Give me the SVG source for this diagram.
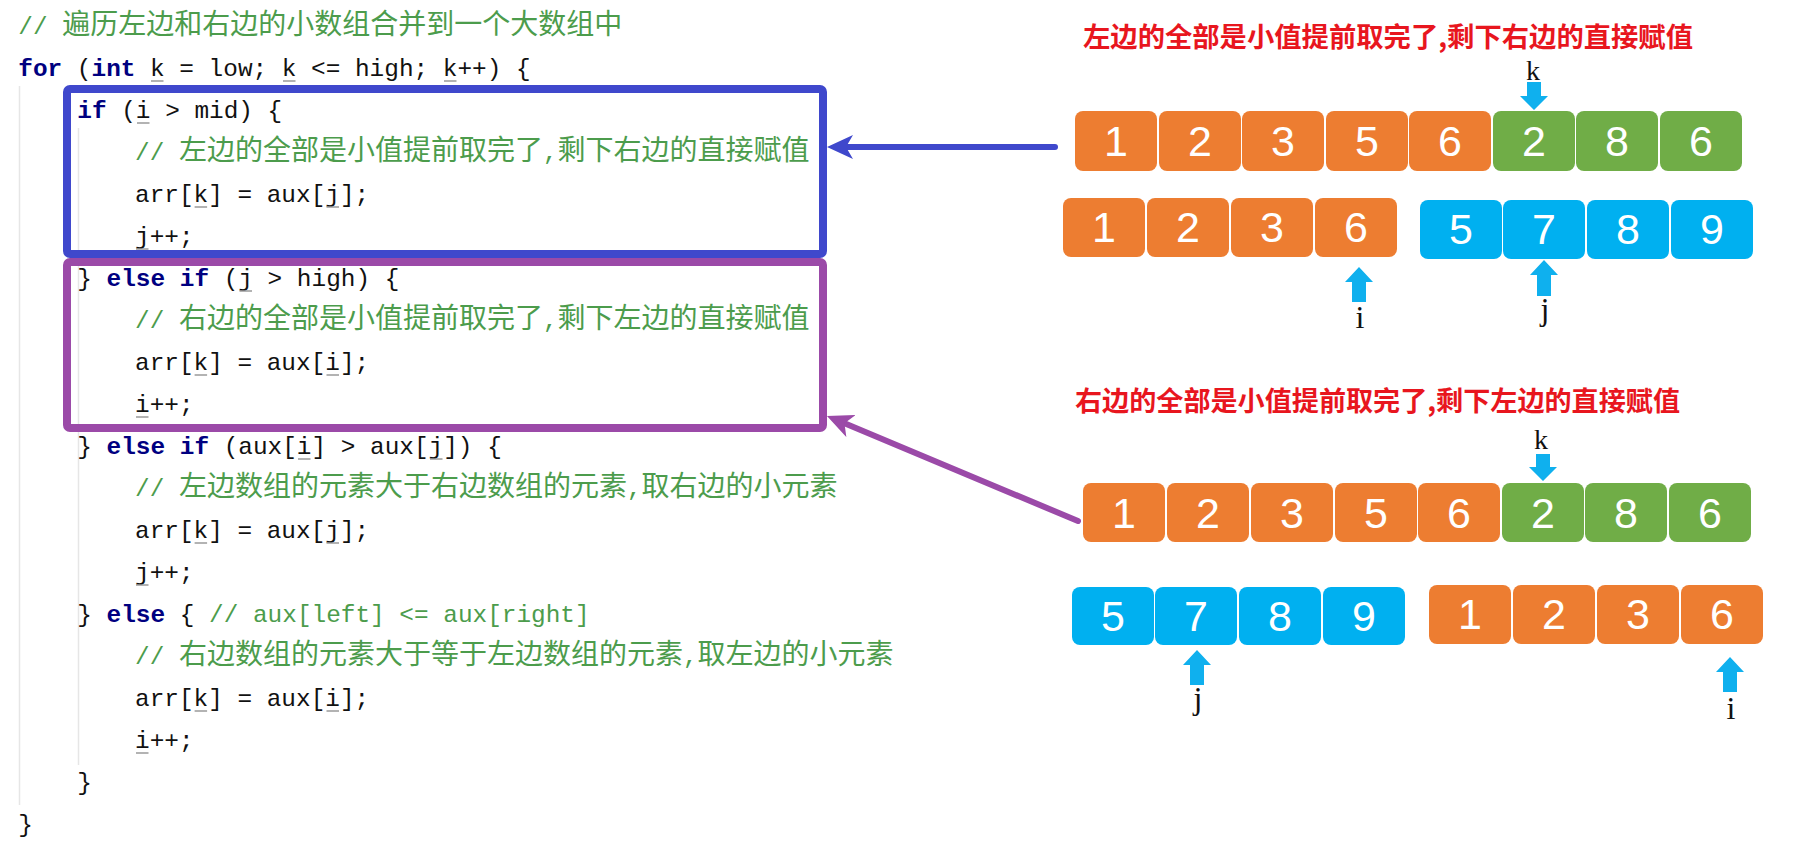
<svg xmlns="http://www.w3.org/2000/svg" width="1793" height="855" viewBox="0 0 1793 855">
<style>
text{white-space:pre}
.code{font-family:"Liberation Mono",monospace;font-size:24.4px;fill:#111}
.kw{fill:#000080;font-weight:bold}
.cm{fill:#4c9c4c}
.cj{font-family:"Noto Sans CJK SC",sans-serif;font-size:28px}
.title{font-family:"Noto Sans CJK SC",sans-serif;font-size:27px;font-weight:bold;fill:#e8161e}
.or{fill:#ed7d31}
.gr{fill:#70ad47}
.bl{fill:#00b0f0}
.dg{font-family:"Liberation Sans",Arial,sans-serif;font-size:43px;fill:#fff;text-anchor:middle}
.lb{font-family:"Liberation Serif","Times New Roman",serif;font-size:32px;fill:#111;text-anchor:middle}
.lk{font-size:28px}
.ptr{fill:#0fb0ee}
.ul{stroke:#9a9a9a;stroke-width:1.3;fill:none}
.guide{stroke:#e6e6e6;stroke-width:1.5}
</style>
<defs>
<marker id="ahBlue" markerUnits="userSpaceOnUse" viewBox="0 0 26 24" refX="7" refY="12" markerWidth="26" markerHeight="24" orient="auto">
<path d="M26,12 L0,0 L7,12 L0,24 Z" fill="#3f48cc"/>
</marker>
<marker id="ahPurple" markerUnits="userSpaceOnUse" viewBox="0 0 26 24" refX="7" refY="12" markerWidth="26" markerHeight="24" orient="auto">
<path d="M26,12 L0,0 L7,12 L0,24 Z" fill="#9b4aa8"/>
</marker>
</defs>
<rect width="1793" height="855" fill="#fff"/>

<g id="code">
<line class="guide" x1="19.5" y1="86" x2="19.5" y2="805"/>
<line class="guide" x1="78.5" y1="128" x2="78.5" y2="765"/>
<text class="code cm" x="18.3" y="34">// <tspan class="cj">遍历左边和右边的小数组合并到一个大数组中</tspan></text>
<text class="code" x="18.3" y="76"><tspan class="kw">for</tspan> (<tspan class="kw">int</tspan> k = low; k &lt;= high; k++) {</text>
<text class="code" x="77.3" y="118"><tspan class="kw">if</tspan> (i &gt; mid) {</text>
<text class="code cm" x="135" y="160">// <tspan class="cj">左边的全部是小值提前取完了</tspan>,<tspan class="cj">剩下右边的直接赋值</tspan></text>
<text class="code" x="135" y="202">arr[k] = aux[j];</text>
<text class="code" x="135" y="244">j++;</text>
<text class="code" x="77.3" y="286">} <tspan class="kw">else if</tspan> (j &gt; high) {</text>
<text class="code cm" x="135" y="328">// <tspan class="cj">右边的全部是小值提前取完了</tspan>,<tspan class="cj">剩下左边的直接赋值</tspan></text>
<text class="code" x="135" y="370">arr[k] = aux[i];</text>
<text class="code" x="135" y="412">i++;</text>
<text class="code" x="77.3" y="454">} <tspan class="kw">else if</tspan> (aux[i] &gt; aux[j]) {</text>
<text class="code cm" x="135" y="496">// <tspan class="cj">左边数组的元素大于右边数组的元素</tspan>,<tspan class="cj">取右边的小元素</tspan></text>
<text class="code" x="135" y="538">arr[k] = aux[j];</text>
<text class="code" x="135" y="580">j++;</text>
<text class="code" x="77.3" y="622">} <tspan class="kw">else</tspan> { <tspan class="cm">// aux[left] &lt;= aux[right]</tspan></text>
<text class="code cm" x="135" y="664">// <tspan class="cj">右边数组的元素大于等于左边数组的元素</tspan>,<tspan class="cj">取左边的小元素</tspan></text>
<text class="code" x="135" y="706">arr[k] = aux[i];</text>
<text class="code" x="135" y="748">i++;</text>
<text class="code" x="77.3" y="790">}</text>
<text class="code" x="18.3" y="832">}</text>
<path class="ul" d="M151,81h12.5M283,81h12.5M444,81h12.5M137,123h12.5M194.6,207h12.5M326.5,207h12.5M136,249h12.5M239.5,291h12.5M194.6,375h12.5M326.5,375h12.5M136,417h12.5M298,459h12.5M430,459h12.5M194.6,543h12.5M326.5,543h12.5M136,585h12.5M194.6,711h12.5M326.5,711h12.5M136,753h12.5"/>
</g>

<g id="box-left-done">
<rect x="67" y="89" width="756" height="165" rx="3" fill="none" stroke="#3f48cc" stroke-width="8"/>
</g>
<g id="box-right-done">
<rect x="67" y="262" width="756" height="166" rx="3" fill="none" stroke="#9b4aa8" stroke-width="8"/>
</g>

<g id="connectors">
<path d="M1055,147 L846,147" stroke="#3f48cc" stroke-width="6" stroke-linecap="round" fill="none" marker-end="url(#ahBlue)"/>
<path d="M1078,521 L844.5,423.3" stroke="#9b4aa8" stroke-width="6" stroke-linecap="round" fill="none" marker-end="url(#ahPurple)"/>
</g>

<g id="title-top">
<text class="title" x="1083" y="47" textLength="610" lengthAdjust="spacingAndGlyphs">左边的全部是小值提前取完了,剩下右边的直接赋值</text>
</g>

<g id="top-merged">
<rect class="or" x="1075" y="111" width="82" height="60" rx="8"/><text class="dg" x="1116" y="156">1</text>
<rect class="or" x="1159" y="111" width="82" height="60" rx="8"/><text class="dg" x="1200" y="156">2</text>
<rect class="or" x="1242" y="111" width="82" height="60" rx="8"/><text class="dg" x="1283" y="156">3</text>
<rect class="or" x="1326" y="111" width="82" height="60" rx="8"/><text class="dg" x="1367" y="156">5</text>
<rect class="or" x="1409" y="111" width="82" height="60" rx="8"/><text class="dg" x="1450" y="156">6</text>
<rect class="gr" x="1493" y="111" width="82" height="60" rx="8"/><text class="dg" x="1534" y="156">2</text>
<rect class="gr" x="1576" y="111" width="82" height="60" rx="8"/><text class="dg" x="1617" y="156">8</text>
<rect class="gr" x="1660" y="111" width="82" height="60" rx="8"/><text class="dg" x="1701" y="156">6</text>
</g>
<g id="top-left-array">
<rect class="or" x="1063" y="198" width="82" height="59" rx="8"/><text class="dg" x="1104" y="242">1</text>
<rect class="or" x="1147" y="198" width="82" height="59" rx="8"/><text class="dg" x="1188" y="242">2</text>
<rect class="or" x="1231" y="198" width="82" height="59" rx="8"/><text class="dg" x="1272" y="242">3</text>
<rect class="or" x="1315" y="198" width="82" height="59" rx="8"/><text class="dg" x="1356" y="242">6</text>
</g>
<g id="top-right-array">
<rect class="bl" x="1420" y="200" width="82" height="59" rx="8"/><text class="dg" x="1461" y="244">5</text>
<rect class="bl" x="1503" y="200" width="82" height="59" rx="8"/><text class="dg" x="1544" y="244">7</text>
<rect class="bl" x="1587" y="200" width="82" height="59" rx="8"/><text class="dg" x="1628" y="244">8</text>
<rect class="bl" x="1671" y="200" width="82" height="59" rx="8"/><text class="dg" x="1712" y="244">9</text>
</g>
<g id="top-pointers">
<polygon class="ptr" points="1527,82 1541,82 1541,96 1548,96 1534,110 1520,96 1527,96"/>
<text class="lb lk" x="1533" y="80">k</text>
<polygon class="ptr" points="1359,267 1373,282 1366,282 1366,302 1352,302 1352,282 1345,282"/>
<text class="lb" x="1360" y="328">i</text>
<polygon class="ptr" points="1544,260 1558,275 1551,275 1551,296 1537,296 1537,275 1530,275"/>
<text class="lb" x="1545" y="320">j</text>
</g>

<g id="title-bottom">
<text class="title" x="1075" y="411" textLength="605" lengthAdjust="spacingAndGlyphs">右边的全部是小值提前取完了,剩下左边的直接赋值</text>
</g>

<g id="bottom-merged">
<rect class="or" x="1083" y="483" width="82" height="59" rx="8"/><text class="dg" x="1124" y="528">1</text>
<rect class="or" x="1167" y="483" width="82" height="59" rx="8"/><text class="dg" x="1208" y="528">2</text>
<rect class="or" x="1251" y="483" width="82" height="59" rx="8"/><text class="dg" x="1292" y="528">3</text>
<rect class="or" x="1335" y="483" width="82" height="59" rx="8"/><text class="dg" x="1376" y="528">5</text>
<rect class="or" x="1418" y="483" width="82" height="59" rx="8"/><text class="dg" x="1459" y="528">6</text>
<rect class="gr" x="1502" y="483" width="82" height="59" rx="8"/><text class="dg" x="1543" y="528">2</text>
<rect class="gr" x="1585" y="483" width="82" height="59" rx="8"/><text class="dg" x="1626" y="528">8</text>
<rect class="gr" x="1669" y="483" width="82" height="59" rx="8"/><text class="dg" x="1710" y="528">6</text>
</g>
<g id="bottom-right-array">
<rect class="bl" x="1072" y="587" width="82" height="58" rx="8"/><text class="dg" x="1113" y="631">5</text>
<rect class="bl" x="1155" y="587" width="82" height="58" rx="8"/><text class="dg" x="1196" y="631">7</text>
<rect class="bl" x="1239" y="587" width="82" height="58" rx="8"/><text class="dg" x="1280" y="631">8</text>
<rect class="bl" x="1323" y="587" width="82" height="58" rx="8"/><text class="dg" x="1364" y="631">9</text>
</g>
<g id="bottom-left-array">
<rect class="or" x="1429" y="585" width="82" height="59" rx="8"/><text class="dg" x="1470" y="629">1</text>
<rect class="or" x="1513" y="585" width="82" height="59" rx="8"/><text class="dg" x="1554" y="629">2</text>
<rect class="or" x="1597" y="585" width="82" height="59" rx="8"/><text class="dg" x="1638" y="629">3</text>
<rect class="or" x="1681" y="585" width="82" height="59" rx="8"/><text class="dg" x="1722" y="629">6</text>
</g>
<g id="bottom-pointers">
<polygon class="ptr" points="1536,454 1550,454 1550,467 1557,467 1543,481 1529,467 1536,467"/>
<text class="lb lk" x="1541" y="449">k</text>
<polygon class="ptr" points="1197,650 1211,665 1204,665 1204,685 1190,685 1190,665 1183,665"/>
<text class="lb" x="1198" y="709">j</text>
<polygon class="ptr" points="1730,657 1744,672 1737,672 1737,692 1723,692 1723,672 1716,672"/>
<text class="lb" x="1731" y="719">i</text>
</g>
</svg>
